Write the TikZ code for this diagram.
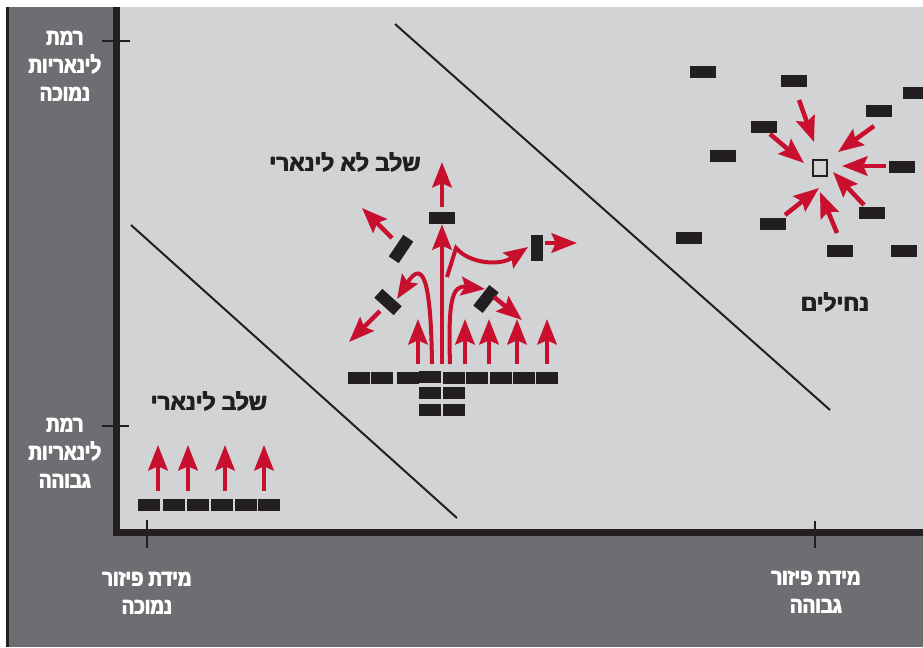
\documentclass[tikz,border=0pt]{standalone}
\usepackage{fontspec}
\usetikzlibrary{arrows.meta}
\TeXXeTstate=1
\newfontfamily\heb[Script=Hebrew,FakeStretch=0.8]{Liberation Sans Bold}
\newfontfamily\hebw[Script=Hebrew,FakeStretch=0.97]{Liberation Sans Bold}
\newcommand\fbx[1]{\leavevmode\rlap{#1}\kern0.4pt\rlap{#1}\kern0.4pt#1}
\definecolor{dkgray}{RGB}{109,110,113}
\definecolor{ltgray}{RGB}{209,211,212}
\definecolor{blk}{RGB}{35,31,32}
\definecolor{myred}{RGB}{200,16,46}
\begin{document}
\begin{tikzpicture}[x=0.75pt,y=-0.75pt,
  blockh/.style={fill=blk,inner sep=0,minimum width=16.5pt,minimum height=9pt},
  blockw/.style={fill=blk,inner sep=0,minimum width=19.5pt,minimum height=9pt},
  redarrow/.style={draw=myred,line width=3.4pt,-{Stealth[length=19pt,width=14.5pt,inset=3pt]}},
  redcurve/.style={draw=myred,line width=3pt,-{Stealth[length=18pt,width=14pt,inset=3pt]}},
  axlbl/.style={text=white,font=\heb\fontsize{17.5}{21}\selectfont,align=center,inner sep=0},
  plotlbl/.style={text=blk,font=\hebw\fontsize{17.5}{21}\selectfont,inner sep=0},
  diag/.style={draw=blk,line width=1.5pt},
  tickmark/.style={draw=blk,line width=1.5pt},
  axisline/.style={draw=blk,line width=5.25pt},
]
\useasboundingbox (0,0) rectangle (923,647);
% backgrounds
\fill[white] (0,0) rectangle (923,647);
\fill[dkgray] (6,7) rectangle (923,647);
\draw[blk,line width=2.25pt] (7.5,7) -- (7.5,647);
\fill[ltgray] (118,7) rectangle (923,531);
% axes
\draw[axisline] (116.5,7) -- (116.5,532.5) -- (923,532.5);
% ticks
\draw[tickmark] (102,41) -- (130,41);
\draw[tickmark] (102,426) -- (129,426);
\draw[tickmark] (147,520) -- (147,548);
\draw[tickmark] (815,521) -- (815,548);
% diagonal separators
\coordinate (d1a) at (131,225); \coordinate (d1b) at (457,518);
\coordinate (d2a) at (395,24);  \coordinate (d2b) at (830,410);
\draw[diag] (d1a) -- (d1b);
\draw[diag] (d2a) -- (d2b);
% axis labels
\node[axlbl] (ylow) at (65,66) {\fbx{\beginR רמת\endR}\\\fbx{\beginR לינאריות\endR}\\\fbx{\beginR נמוכה\endR}};
\node[axlbl] (yhigh) at (65,453) {\fbx{\beginR רמת\endR}\\\fbx{\beginR לינאריות\endR}\\\fbx{\beginR גבוהה\endR}};
\node[axlbl] (xlow) at (147,593) {\fbx{\beginR מידת פיזור\endR}\\\fbx{\beginR נמוכה\endR}};
\node[axlbl] (xhigh) at (816,592) {\fbx{\beginR מידת פיזור\endR}\\\fbx{\beginR גבוהה\endR}};
% region labels
\node[plotlbl] (lin) at (209,401) {\fbx{\beginR שלב לינארי\endR}};
\node[plotlbl] (nonlin) at (345,162) {\fbx{\beginR שלב לא לינארי\endR}};
\node[plotlbl] (swarm) at (835,302) {\fbx{\beginR נחילים\endR}};
% ---------- linear phase ----------
\foreach \i/\x in {1/149,2/174,3/198,4/222,5/246,6/269}
  \node[blockh] (b\i) at (\x,505) {};
\foreach \i/\x in {1/158,2/188,3/225,4/264}{
  \coordinate (las\i) at (\x,491);
  \coordinate (lae\i) at (\x,445);
  \draw[redarrow] (las\i) -- (lae\i);
}
% ---------- nonlinear phase ----------
\foreach \i/\x in {1/359,2/382,3/408,5/454,6/477,7/501,8/524,9/547}
  \node[blockh] (m\i) at (\x,377.5) {};
\node[blockh] (m4) at (430,376.5) {};
\node[blockh] (m10) at (430,393) {};
\node[blockh] (m11) at (454,393) {};
\node[blockh] (m12) at (430,410) {};
\node[blockh] (m13) at (454,410) {};
\node[blockw] (u1) at (442,218) {};
\node[blockw,rotate=90] (r1) at (537,248) {};
\node[blockw,rotate=56] (t1) at (401,249) {};
\node[blockw,rotate=-42] (t2) at (388,302) {};
\node[blockw,rotate=52] (t3) at (486,299) {};
% straight arrows
\foreach \i/\x in {1/418,2/465,3/489,4/517,5/547}{
  \coordinate (mas\i) at (\x,364);
  \coordinate (mae\i) at (\x,319);
  \draw[redarrow] (mas\i) -- (mae\i);
}
\coordinate (cs) at (442,364);
\draw[redarrow] (cs) -- (u1.south);
\coordinate (ups) at (442,207); \coordinate (upe) at (442,162);
\draw[redarrow] (ups) -- (upe);
\coordinate (t1s) at (392,238); \coordinate (t1e) at (362,208);
\draw[redarrow] (t1s) -- (t1e);
\coordinate (t2s) at (380,311); \coordinate (t2e) at (349,342);
\draw[redarrow] (t2s) -- (t2e);
\coordinate (t3s) at (494,297); \coordinate (t3e) at (522,320);
\draw[redarrow] (t3s) -- (t3e);
\coordinate (r1s) at (545,243); \coordinate (r1e) at (577,243);
\draw[redarrow] (r1s) -- (r1e);
% curved arrows
\coordinate (lcs) at (432,364); \coordinate (lce) at (397,299);
\draw[redcurve] (lcs) .. controls (431,290) and (425,255) .. (lce);
\coordinate (rcs) at (450,364); \coordinate (rce) at (485,289);
\draw[redcurve] (rcs) .. controls (448,300) and (452,285) .. (rce);
\coordinate (bcs) at (447,277); \coordinate (bck) at (456,248); \coordinate (bce) at (528,247);
\draw[redcurve] (bcs) -- (bck) .. controls (470,264) and (500,266) .. (bce);
% ---------- swarms ----------
\foreach \i/\x/\y in {1/703/72,2/794/81,3/916/93,4/879/111,5/764/127,6/723/156,
  7/902/167,8/872/213,9/773/224,10/689/238,11/840/251,12/904/251}
  \node[blockw] (s\i) at (\x,\y) {};
\node[draw=blk,line width=1.5pt,fill=ltgray,inner sep=0,minimum width=10.5pt,minimum height=12pt] (ctr) at (820,168) {};
\foreach \n/\xs/\ys/\xe/\ye in {a/799/100/814/142, b/770/134/804/163, c/874/126/838/152,
  d/886/166/842/166, e/864/205/833/172, f/837/233/820/192, g/785/215/819/188}{
  \coordinate (sa\n) at (\xs,\ys);
  \coordinate (se\n) at (\xe,\ye);
  \draw[redarrow] (sa\n) -- (se\n);
}
\end{tikzpicture}
\end{document}
